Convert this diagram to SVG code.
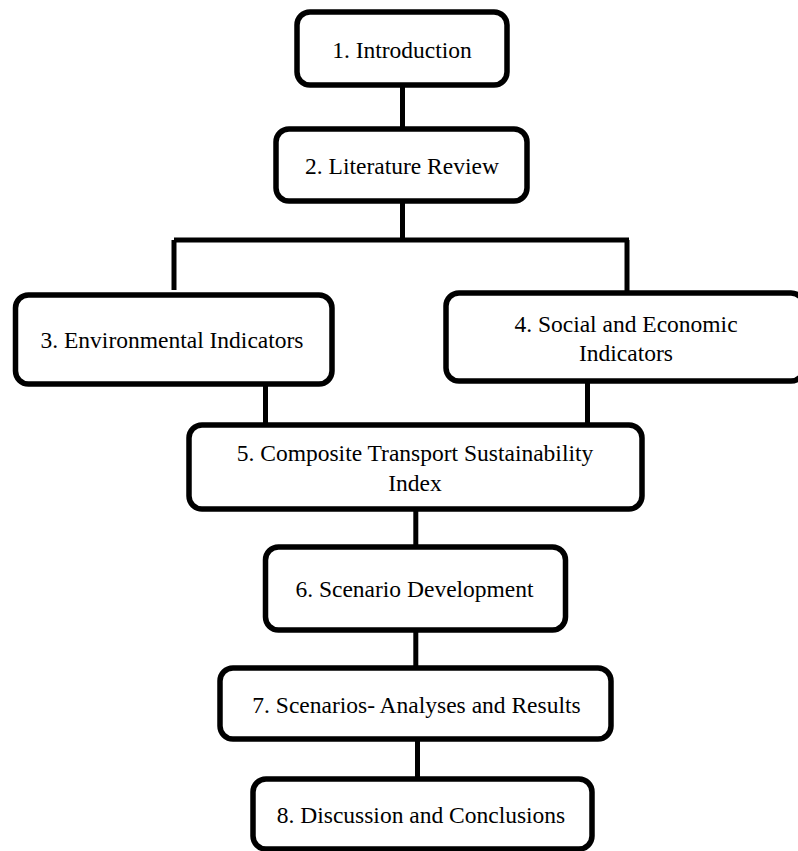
<svg xmlns="http://www.w3.org/2000/svg" width="798" height="851" viewBox="0 0 798 851">
<style>
.box{fill:#fff;stroke:#000;stroke-width:5.5}
.con{stroke:#000;stroke-width:5;fill:none}
text{font-family:"Liberation Serif","Times New Roman",serif;font-size:23.5px;fill:#000;text-anchor:middle}
</style>
<rect width="798" height="851" fill="#fff"/>
<g id="connectors">
<line class="con" x1="402.5" y1="85" x2="402.5" y2="129"/>
<polyline class="con" points="402.5,201 402.5,240"/>
<line class="con" x1="174" y1="240" x2="629" y2="240"/>
<line class="con" x1="174" y1="240" x2="174" y2="290"/>
<line class="con" x1="627" y1="240" x2="627" y2="293"/>
<line class="con" x1="265.5" y1="384" x2="265.5" y2="425"/>
<line class="con" x1="587.5" y1="381" x2="587.5" y2="425"/>
<line class="con" x1="415.8" y1="509" x2="415.8" y2="547"/>
<line class="con" x1="415.8" y1="630" x2="415.8" y2="668"/>
<line class="con" x1="417.5" y1="739" x2="417.5" y2="779"/>
</g>
<g id="n1"><rect class="box" x="297" y="12" width="210" height="73" rx="13"/><text x="402" y="58">1. Introduction</text></g>
<g id="n2"><rect class="box" x="276" y="129" width="251" height="72" rx="13"/><text x="402" y="174">2. Literature Review</text></g>
<g id="n3"><rect class="box" x="15.5" y="295" width="316.5" height="89" rx="13"/><text x="172" y="348">3. Environmental Indicators</text></g>
<g id="n4"><rect class="box" x="446" y="293" width="358" height="88" rx="13"/><text x="626" y="331.7">4. Social and Economic</text><text x="626" y="360.7">Indicators</text></g>
<g id="n5"><rect class="box" x="189" y="425" width="453" height="84" rx="13"/><text x="415" y="460.7">5. Composite Transport Sustainability</text><text x="415" y="490.7">Index</text></g>
<g id="n6"><rect class="box" x="265.5" y="547" width="300" height="83" rx="13"/><text x="414.5" y="596.7">6. Scenario Development</text></g>
<g id="n7"><rect class="box" x="220" y="668" width="391" height="71" rx="13"/><text x="416.5" y="712.7">7. Scenarios- Analyses and Results</text></g>
<g id="n8"><rect class="box" x="253" y="779" width="339" height="70" rx="13"/><text x="421" y="823.3">8. Discussion and Conclusions</text></g>
</svg>
